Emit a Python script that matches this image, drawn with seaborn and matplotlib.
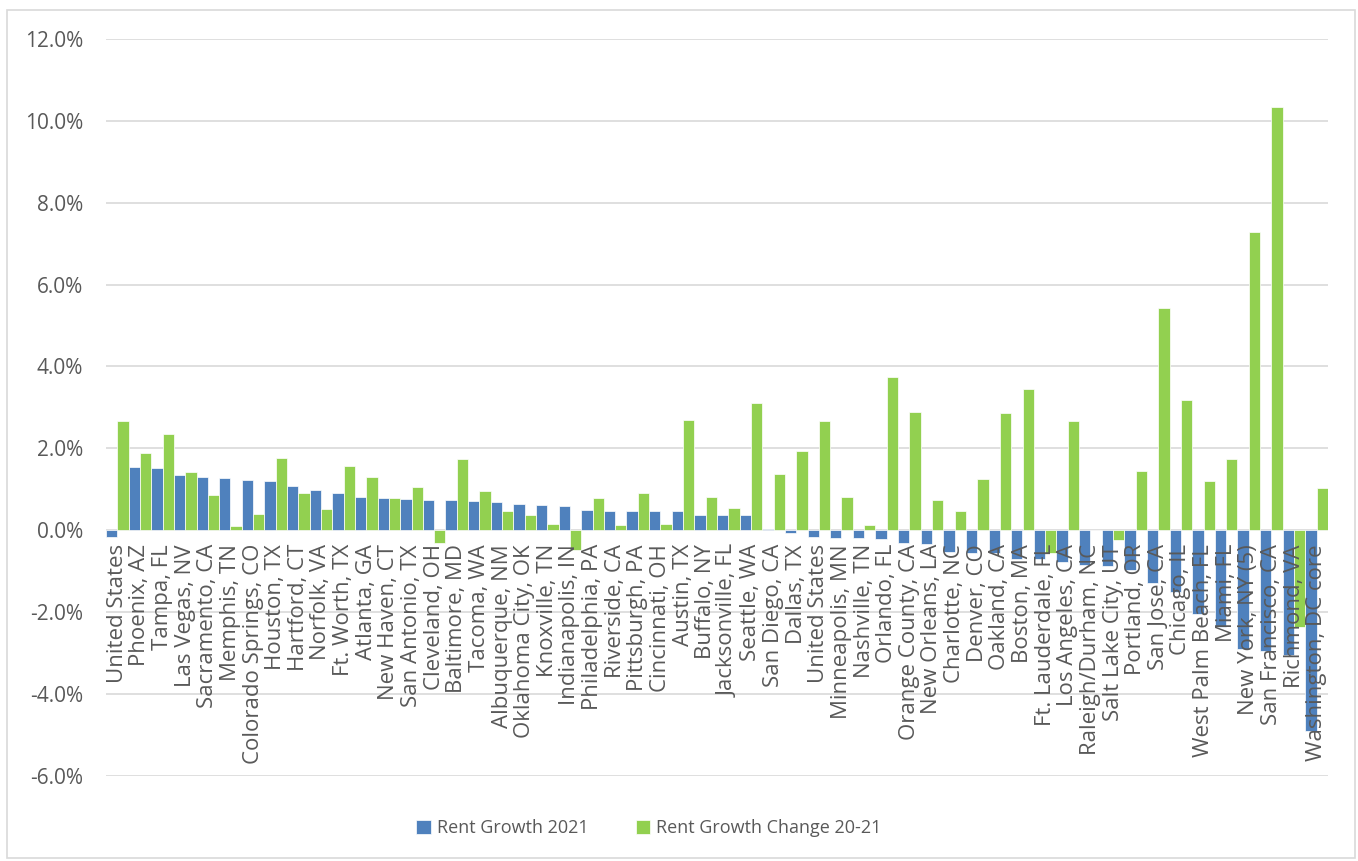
import matplotlib
matplotlib.use("Agg")
import matplotlib.pyplot as plt
import seaborn as sns
import pandas as pd
from matplotlib.patches import Rectangle

cities = [
    "United States", "Phoenix, AZ", "Tampa, FL", "Las Vegas, NV", "Sacramento, CA",
    "Memphis, TN", "Colorado Springs, CO", "Houston, TX", "Hartford, CT", "Norfolk, VA",
    "Ft. Worth, TX", "Atlanta, GA", "New Haven, CT", "San Antonio, TX", "Cleveland, OH",
    "Baltimore, MD", "Tacoma, WA", "Albuquerque, NM", "Oklahoma City, OK", "Knoxville, TN",
    "Indianapolis, IN", "Philadelphia, PA", "Riverside, CA", "Pittsburgh, PA", "Cincinnati, OH",
    "Austin, TX", "Buffalo, NY", "Jacksonville, FL", "Seattle, WA", "San Diego, CA",
    "Dallas, TX", "United States", "Minneapolis, MN", "Nashville, TN", "Orlando, FL",
    "Orange County, CA", "New Orleans, LA", "Charlotte, NC", "Denver, CO", "Oakland, CA",
    "Boston, MA", "Ft. Lauderdale, FL", "Los Angeles, CA", "Raleigh/Durham, NC", "Salt Lake City, UT",
    "Portland, OR", "San Jose, CA", "Chicago, IL", "West Palm Beach, FL", "Miami, FL",
    "New York, NY (5)", "San Francisco, CA", "Richmond, VA", "Washington, DC core",
]

rent_growth_2021 = [
    -0.16, 1.54, 1.52, 1.34, 1.30, 1.27, 1.23, 1.21, 1.08, 0.97,
    0.90, 0.82, 0.78, 0.75, 0.73, 0.73, 0.71, 0.68, 0.64, 0.61,
    0.59, 0.50, 0.47, 0.46, 0.46, 0.46, 0.37, 0.37, 0.36, 0.03,
    -0.06, -0.16, -0.19, -0.20, -0.21, -0.31, -0.35, -0.54, -0.55, -0.57,
    -0.70, -0.70, -0.78, -0.85, -0.88, -0.98, -1.28, -1.50, -2.05, -2.36,
    -2.90, -2.95, -3.04, -4.91,
]

rent_growth_change = [
    2.66, 1.88, 2.36, 1.43, 0.86, 0.11, 0.39, 1.76, 0.90, 0.51,
    1.57, 1.29, 0.78, 1.05, -0.31, 1.73, 0.96, 0.46, 0.37, 0.14,
    -0.49, 0.78, 0.12, 0.90, 0.14, 2.68, 0.80, 0.55, 3.10, 1.36,
    1.94, 2.66, 0.82, 0.12, 3.73, 2.88, 0.73, 0.46, 1.26, 2.86,
    3.45, -0.57, 2.66, 0.00, -0.23, 1.44, 5.43, 3.19, 1.19, 1.73,
    7.29, 10.35, -2.36, 1.04,
]

series_names = ["Rent Growth 2021", "Rent Growth Change 20-21"]
y_ticks = [-6, -4, -2, 0, 2, 4, 6, 8, 10, 12]

n = len(cities)
keys = [str(i) for i in range(n)]
df = pd.DataFrame({
    "key": keys * 2,
    "value": rent_growth_2021 + rent_growth_change,
    "series": [series_names[0]] * n + [series_names[1]] * n,
})

sns.set_theme(style="white")
plt.rcParams["font.family"] = ["Open Sans", "DejaVu Sans"]
text_color = "#595959"

fig = plt.figure(figsize=(13.58, 8.61), dpi=100)
ax = fig.add_axes([106 / 1358, 1 - 775.7 / 861, (1328 - 106) / 1358, (775.7 - 39) / 861])

sns.barplot(
    data=df, x="key", y="value", hue="series", order=keys, hue_order=series_names,
    palette=["#4F81BD", "#92D050"], saturation=1, width=1.0, gap=0, dodge=True,
    edgecolor="white", linewidth=0.5, ax=ax, legend=True,
)

ax.set_ylim(-6, 12)
ax.set_xlim(-0.5, n - 0.5)
ax.set_yticks(y_ticks)
ax.set_yticklabels([f"{v:.1f}%" for v in y_ticks], color=text_color, fontsize=15)
ax.yaxis.grid(True, color="#D9D9D9", linewidth=1.2)
ax.set_axisbelow(True)
ax.xaxis.set_zorder(5)
ax.set_xlabel("")
ax.set_ylabel("")

for s in ["top", "right", "left"]:
    ax.spines[s].set_visible(False)
ax.spines["bottom"].set_position(("data", 0))
ax.spines["bottom"].set_visible(False)

ax.set_xticks(range(n))
ax.set_xticklabels(cities, rotation=90, color=text_color, fontsize=16, va="top", ha="center")
ax.tick_params(axis="x", length=0, pad=10)
ax.tick_params(axis="y", length=0, pad=16.5)

leg = ax.legend(
    loc="center", bbox_to_anchor=(649 / 1358, 1 - 828 / 861), bbox_transform=fig.transFigure,
    ncol=2, frameon=False, fontsize=13, handlelength=0.8, handleheight=0.8,
    handletextpad=0.35, columnspacing=2.6,
)
for t in leg.get_texts():
    t.set_color(text_color)

fig.patches.append(Rectangle((7 / 1358, 1 - 858 / 861), (1355 - 7) / 1358, (858 - 10) / 861,
                             transform=fig.transFigure, fill=False, edgecolor="#D9D9D9",
                             linewidth=1.2))

fig.savefig("out.png", dpi=100)
